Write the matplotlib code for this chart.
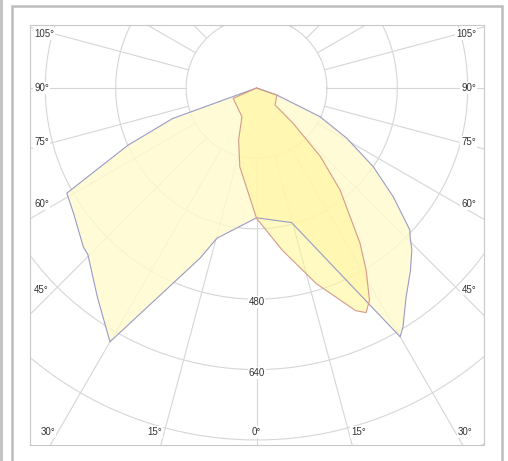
import numpy as np
import matplotlib
matplotlib.use("Agg")
import matplotlib.pyplot as plt
from matplotlib.patches import Rectangle

# polar intensity curves, angle from nadir (deg, + to the right), value in cd/klm
big_angles = [-90, -75, -70, -66, -61, -55.6, -47.5, -45.3, -37.3, -30, -18.4, -14.75,
              0, 14.6, 30, 31.5, 35.6, 40, 43.8, 45.9, 47.2, 51.5, 56, 60.9, 65.7, 70.9, 75, 90]
big_values = [0, 0, 203, 320, 493, 504, 534, 539, 597, 666, 408, 353,
              295, 316, 653, 637, 584, 544, 510, 486, 475, 397, 320, 235, 158, 49, 0, 0]

narrow_angles = [-90, -75, -66, -27, -19, -12, -3, 0, 9, 17, 24, 26, 28, 31, 33.7,
                 39.3, 43, 46, 47.5, 71, 75, 90]
narrow_values = [0, 0, 58, 73, 125, 183, 255, 296, 373, 465, 554, 568, 547, 484, 424,
                 300, 213, 116, 57, 49, 0, 0]

ring_values = [160, 320, 480, 640, 800, 960]
ring_labels = ["480", "640"]
side_labels = [105, 90, 75, 60, 45]
bottom_labels = [-30, -15, 0, 15, 30]


def to_xy(angles, values):
    a = np.radians(np.array(angles, dtype=float))
    r = np.array(values, dtype=float)
    return r * np.sin(a), -r * np.cos(a)


W, H = 508, 461
fig = plt.figure(figsize=(W / 100, H / 100), dpi=100)
ax = fig.add_axes([30 / W, (H - 445) / H, 454 / W, 420 / H])

grid_col = "#d6d6d6"
tt = np.linspace(0, 2 * np.pi, 400)
for rv in ring_values:
    ax.plot(rv * np.cos(tt), rv * np.sin(tt), color=grid_col, lw=0.8, zorder=1)
for ang in range(-180, 181, 15):
    xs, ys = to_xy([ang, ang], [160, 1400])
    ax.plot(xs, ys, color=grid_col, lw=0.8, zorder=1)

bx, by = to_xy(big_angles, big_values)
nx, ny = to_xy(narrow_angles, narrow_values)
ax.fill(bx, by, color="#fffbcc", alpha=0.8, lw=0, zorder=2)
ax.fill(nx, ny, color="#fff59a", alpha=0.6, lw=0, zorder=2)
ax.plot(np.append(bx, bx[0]), np.append(by, by[0]), color="#9a9ac8", lw=0.8, zorder=3)
ax.plot(np.append(nx, nx[0]), np.append(ny, ny[0]), color="#d49a8a", lw=0.8, zorder=3)

box = dict(facecolor="white", edgecolor="none", pad=0.6)
txt = dict(fontsize=7, color="#333333", family="Liberation Sans", zorder=5, bbox=box)

# side labels
for a in side_labels:
    y = -458 / np.tan(np.radians(a))
    ax.text(-505, y, f"{a}°", ha="left", va="center", **txt)
    ax.text(499, y, f"{a}°", ha="right", va="center", **txt)

# bottom labels
yb = -782
for a in bottom_labels:
    x = -yb * np.tan(np.radians(a))
    if a < 0:
        ax.text(x - 6, yb, f"{abs(a)}°", ha="right", va="center", **txt)
    elif a > 0:
        ax.text(x + 6, yb, f"{a}°", ha="left", va="center", **txt)
    else:
        ax.text(x, yb, f"{a}°", ha="center", va="center", **txt)

for lab in ring_labels:
    ax.text(0, -(int(lab) + 7), lab, ha="center", va="center", **txt)

ax.set_xlim(-514.8, 517)
ax.set_ylim(-811.4, 143.2)
ax.set_xticks([])
ax.set_yticks([])
for s in ax.spines.values():
    s.set_color("#c8c8c8")
    s.set_linewidth(0.8)

fig.add_artist(Rectangle((12 / W, -0.1), (502 - 12) / W, (H - 6) / H + 0.1,
                         transform=fig.transFigure, fill=False,
                         edgecolor="#bdbdbd", lw=1.8))
fig.add_artist(Rectangle((0, 0), 3 / W, 1, transform=fig.transFigure,
                         facecolor="#c4c4c4", edgecolor="none"))

fig.savefig("out.png", dpi=100)
